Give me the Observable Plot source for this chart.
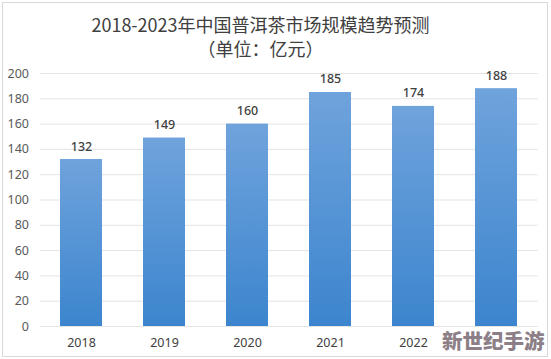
<!DOCTYPE html>
<html>
<head>
<meta charset="utf-8">
<script src="https://cdn.jsdelivr.net/npm/d3@7"></script>
<script src="https://cdn.jsdelivr.net/npm/@observablehq/plot@0.6"></script>
<style>
  html, body { margin: 0; padding: 0; background: #fff; }
  #wrap { position: relative; width: 551px; height: 359px; overflow: hidden; font-family: "Noto Sans CJK SC", "Noto Sans", sans-serif; }
  #border { position: absolute; left: 2px; top: 2px; width: 546px; height: 355px; border: 1px solid #d9d9d9; box-sizing: border-box; pointer-events: none; }
  #title { position: absolute; left: 0; top: 0; width: 521px; text-align: center; color: #404040; font-size: 18px; line-height: 24px; padding-top: 12px; }
  #chart { position: absolute; left: 0; top: 62px; }
  #wm { position: absolute; left: 440px; top: 329px; padding: 0 2px; font-size: 20.5px; line-height: 22px; font-weight: 900; color: #8c7f87; background: #fff; }
</style>
</head>
<body>
<div id="wrap">
  <div id="border"></div>
  <div id="title">2018-2023年中国普洱茶市场规模趋势预测<br>（单位：亿元）</div>
  <div id="chart"></div>
  <div id="wm">新世纪手游</div>
</div>
<script>
const years = ["2018", "2019", "2020", "2021", "2022", "2023"];
const values = [132, 149, 160, 185, 174, 188];
const yTicks = [0, 20, 40, 60, 80, 100, 120, 140, 160, 180, 200];

const data = years.map((y, i) => ({year: y, value: values[i]}));

const plot = Plot.plot({
  width: 551,
  height: 297,
  marginLeft: 39.5,
  marginRight: 13.5,
  marginTop: 11,
  marginBottom: 33,
  style: {fontFamily: "'Noto Sans', 'Noto Sans CJK SC', sans-serif", fontSize: "12.5px", color: "#595959", background: "transparent"},
  x: {domain: years, paddingInner: 0.5, paddingOuter: 0.25, label: null},
  y: {domain: [0, 200], ticks: yTicks, label: null},
  marks: [
    Plot.gridY(yTicks, {stroke: "#e3e3e3", strokeOpacity: 1}),
    Plot.axisY(yTicks, {tickSize: 0, tickPadding: 11, fill: "#595959", fontSize: 12.5}),
    Plot.axisX({tickSize: 0, tickPadding: 12, fill: "#404040", fontSize: 12.5}),
    Plot.barY(data, {x: "year", y: "value", fill: "url(#barGrad)"}),
    Plot.text(data, {x: "year", y: "value", text: d => String(d.value), dy: -13, fill: "#404040", fontSize: 12.5, fontWeight: 500})
  ]
});

const svg = d3.select(plot);
const defs = svg.insert("defs", ":first-child");
const g = defs.append("linearGradient").attr("id", "barGrad").attr("x1", 0).attr("y1", 0).attr("x2", 0).attr("y2", 1);
g.append("stop").attr("offset", "0%").attr("stop-color", "#6fa3dc");
g.append("stop").attr("offset", "100%").attr("stop-color", "#3c85ce");

document.getElementById("chart").appendChild(plot);
</script>
</body>
</html>
